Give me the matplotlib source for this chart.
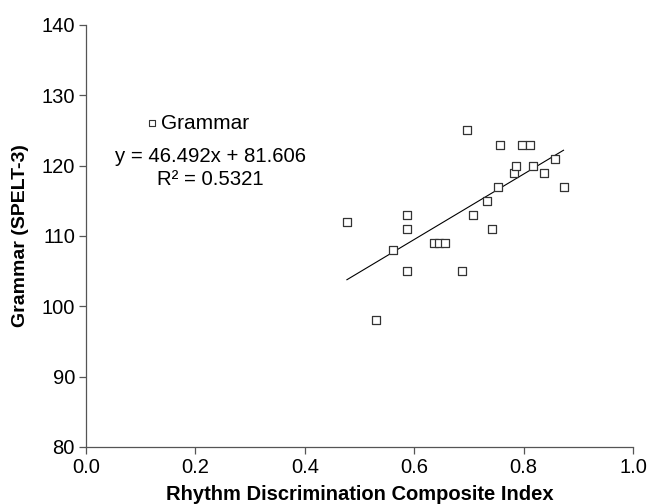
import matplotlib.pyplot as plt
import numpy as np

plt.rcParams['font.family'] = ['Liberation Sans', 'DejaVu Sans']

# rhythm discrimination index vs grammar score
rhythm = [0.477, 0.531, 0.562, 0.586, 0.586, 0.586, 0.636, 0.646, 0.657,
          0.687, 0.697, 0.707, 0.733, 0.742, 0.753, 0.757, 0.782, 0.787,
          0.797, 0.812, 0.817, 0.837, 0.857, 0.873]
grammar = [112, 98, 108, 113, 111, 105, 109, 109, 109,
           105, 125, 113, 115, 111, 117, 123, 119, 120,
           123, 123, 120, 119, 121, 117]

slope = 46.492
intercept = 81.606
r2 = 0.5321

x_ticks = [0.0, 0.2, 0.4, 0.6, 0.8, 1.0]
y_ticks = [80, 90, 100, 110, 120, 130, 140]

fig = plt.figure(figsize=(6.5, 5.04), dpi=100)
ax = fig.add_axes([0.1323, 0.1131, 0.8415, 0.8373])

ax.scatter(rhythm, grammar, marker='s', s=38, facecolors='white',
           edgecolors='#333333', linewidths=0.9, zorder=3)

xs = np.array([min(rhythm), max(rhythm)])
ax.plot(xs, slope * xs + intercept, color='black', linewidth=0.8, zorder=2)

ax.set_xlim(0, 1.0)
ax.set_ylim(80, 140)
ax.set_xticks(x_ticks)
ax.set_yticks(y_ticks)
ax.set_xticklabels([f'{v:.1f}' for v in x_ticks])

for side in ['top', 'right']:
    ax.spines[side].set_visible(False)
for side in ['left', 'bottom']:
    ax.spines[side].set_color('#555555')
    ax.spines[side].set_linewidth(0.9)
ax.tick_params(direction='out', length=5, width=0.9, color='#555555',
               labelsize=14.5, pad=3)

ax.set_xlabel('Rhythm Discrimination Composite Index', fontsize=14.5,
              fontweight='bold', labelpad=6)
ax.set_ylabel('Grammar (SPELT-3)', fontsize=14, fontweight='bold',
              labelpad=9)

# legend-like label and equation
ax.scatter([0.121], [126], marker='s', s=22, facecolors='white',
           edgecolors='#333333', linewidths=0.8, clip_on=False)
ax.text(0.138, 126, 'Grammar', fontsize=15, va='center', ha='left')
ax.text(0.228, 121.3, f'y = {slope}x + {intercept}', fontsize=14.7,
        ha='center', va='center')
ax.text(0.228, 118.0, f'R² = {r2}', fontsize=14.7, ha='center', va='center')

fig.savefig('out.png', dpi=100)
